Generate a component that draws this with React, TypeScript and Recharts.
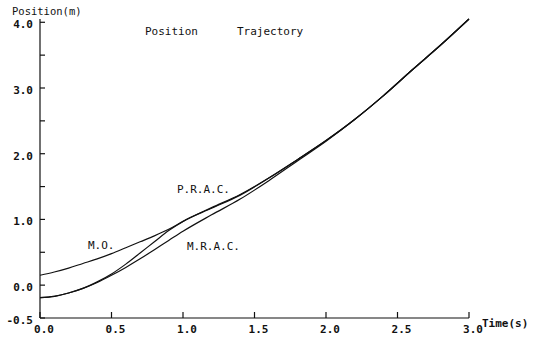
import { LineChart, Line, XAxis, YAxis, Customized } from 'recharts';

// time (s) and positions (m)
const time = [0, 0.1, 0.2, 0.3, 0.4, 0.5, 0.6, 0.7, 0.8, 0.9, 1.0, 1.2, 1.4, 1.6, 1.8, 2.0, 2.2, 2.4, 2.6, 2.8, 3.0];
const mo = [0.15, 0.2, 0.26, 0.33, 0.4, 0.48, 0.57, 0.66, 0.75, 0.85, 0.97, 1.18, 1.38, 1.63, 1.91, 2.2, 2.52, 2.88, 3.27, 3.65, 4.05];
const prac = [-0.19, -0.17, -0.12, -0.05, 0.05, 0.17, 0.32, 0.49, 0.66, 0.83, 0.97, 1.17, 1.37, 1.63, 1.91, 2.2, 2.52, 2.88, 3.27, 3.65, 4.05];
const mrac = [-0.19, -0.17, -0.12, -0.05, 0.04, 0.15, 0.27, 0.4, 0.54, 0.68, 0.82, 1.07, 1.31, 1.59, 1.89, 2.19, 2.52, 2.88, 3.27, 3.65, 4.05];

const xTicks = [0, 0.5, 1.0, 1.5, 2.0, 2.5, 3.0];
const yTicks = [-0.5, 0, 0.5, 1.0, 1.5, 2.0, 2.5, 3.0, 3.5, 4.0];

const data = time.map((t, i) => ({ t, mo: mo[i], prac: prac[i], mrac: mrac[i] }));

const FONT = '"DejaVu Sans Mono", monospace';

const Labels = () => (
  <g fontFamily={FONT} fill="#111" fontSize={11}>
    <text x={12} y={15} fontSize={10.5}>Position(m)</text>
    <text x={145} y={35}>Position</text>
    <text x={237} y={35}>Trajectory</text>
    <text x={482} y={327} fontWeight="bold">Time(s)</text>
    <text x={88} y={249}>M.O.</text>
    <text x={177} y={193}>P.R.A.C.</text>
    <text x={187} y={250}>M.R.A.C.</text>
  </g>
);

export default function App() {
  const tickStyle = { fontFamily: FONT, fontSize: 11, fontWeight: 'bold', fill: '#111' };
  return (
    <div style={{ position: 'absolute', left: 0, top: 0, background: '#fff' }}>
      <LineChart width={541} height={340} data={data} margin={{ top: 19, right: 72, bottom: 0, left: 0 }}>
        <XAxis
          dataKey="t"
          type="number"
          domain={[0, 3]}
          ticks={xTicks}
          tickFormatter={(v) => v.toFixed(1)}
          tickSize={-6}
          tickMargin={13}
          height={22}
          stroke="#111"
          strokeWidth={1.2}
          tick={{ ...tickStyle, dx: 4 }}
        />
        <YAxis
          type="number"
          domain={[-0.5, 4.05]}
          ticks={yTicks}
          tickFormatter={(v) => (Number.isInteger(v) || v === -0.5 ? v.toFixed(1) : '')}
          tickSize={-5}
          tickMargin={12}
          width={40}
          stroke="#111"
          strokeWidth={1.2}
          tick={{ ...tickStyle, dy: 2 }}
        />
        <Line dataKey="mo" type="monotone" stroke="#111" strokeWidth={1.2} dot={false} isAnimationActive={false} />
        <Line dataKey="prac" type="monotone" stroke="#111" strokeWidth={1.2} dot={false} isAnimationActive={false} />
        <Line dataKey="mrac" type="monotone" stroke="#111" strokeWidth={1.2} dot={false} isAnimationActive={false} />
        <Customized component={Labels} />
      </LineChart>
    </div>
  );
}
